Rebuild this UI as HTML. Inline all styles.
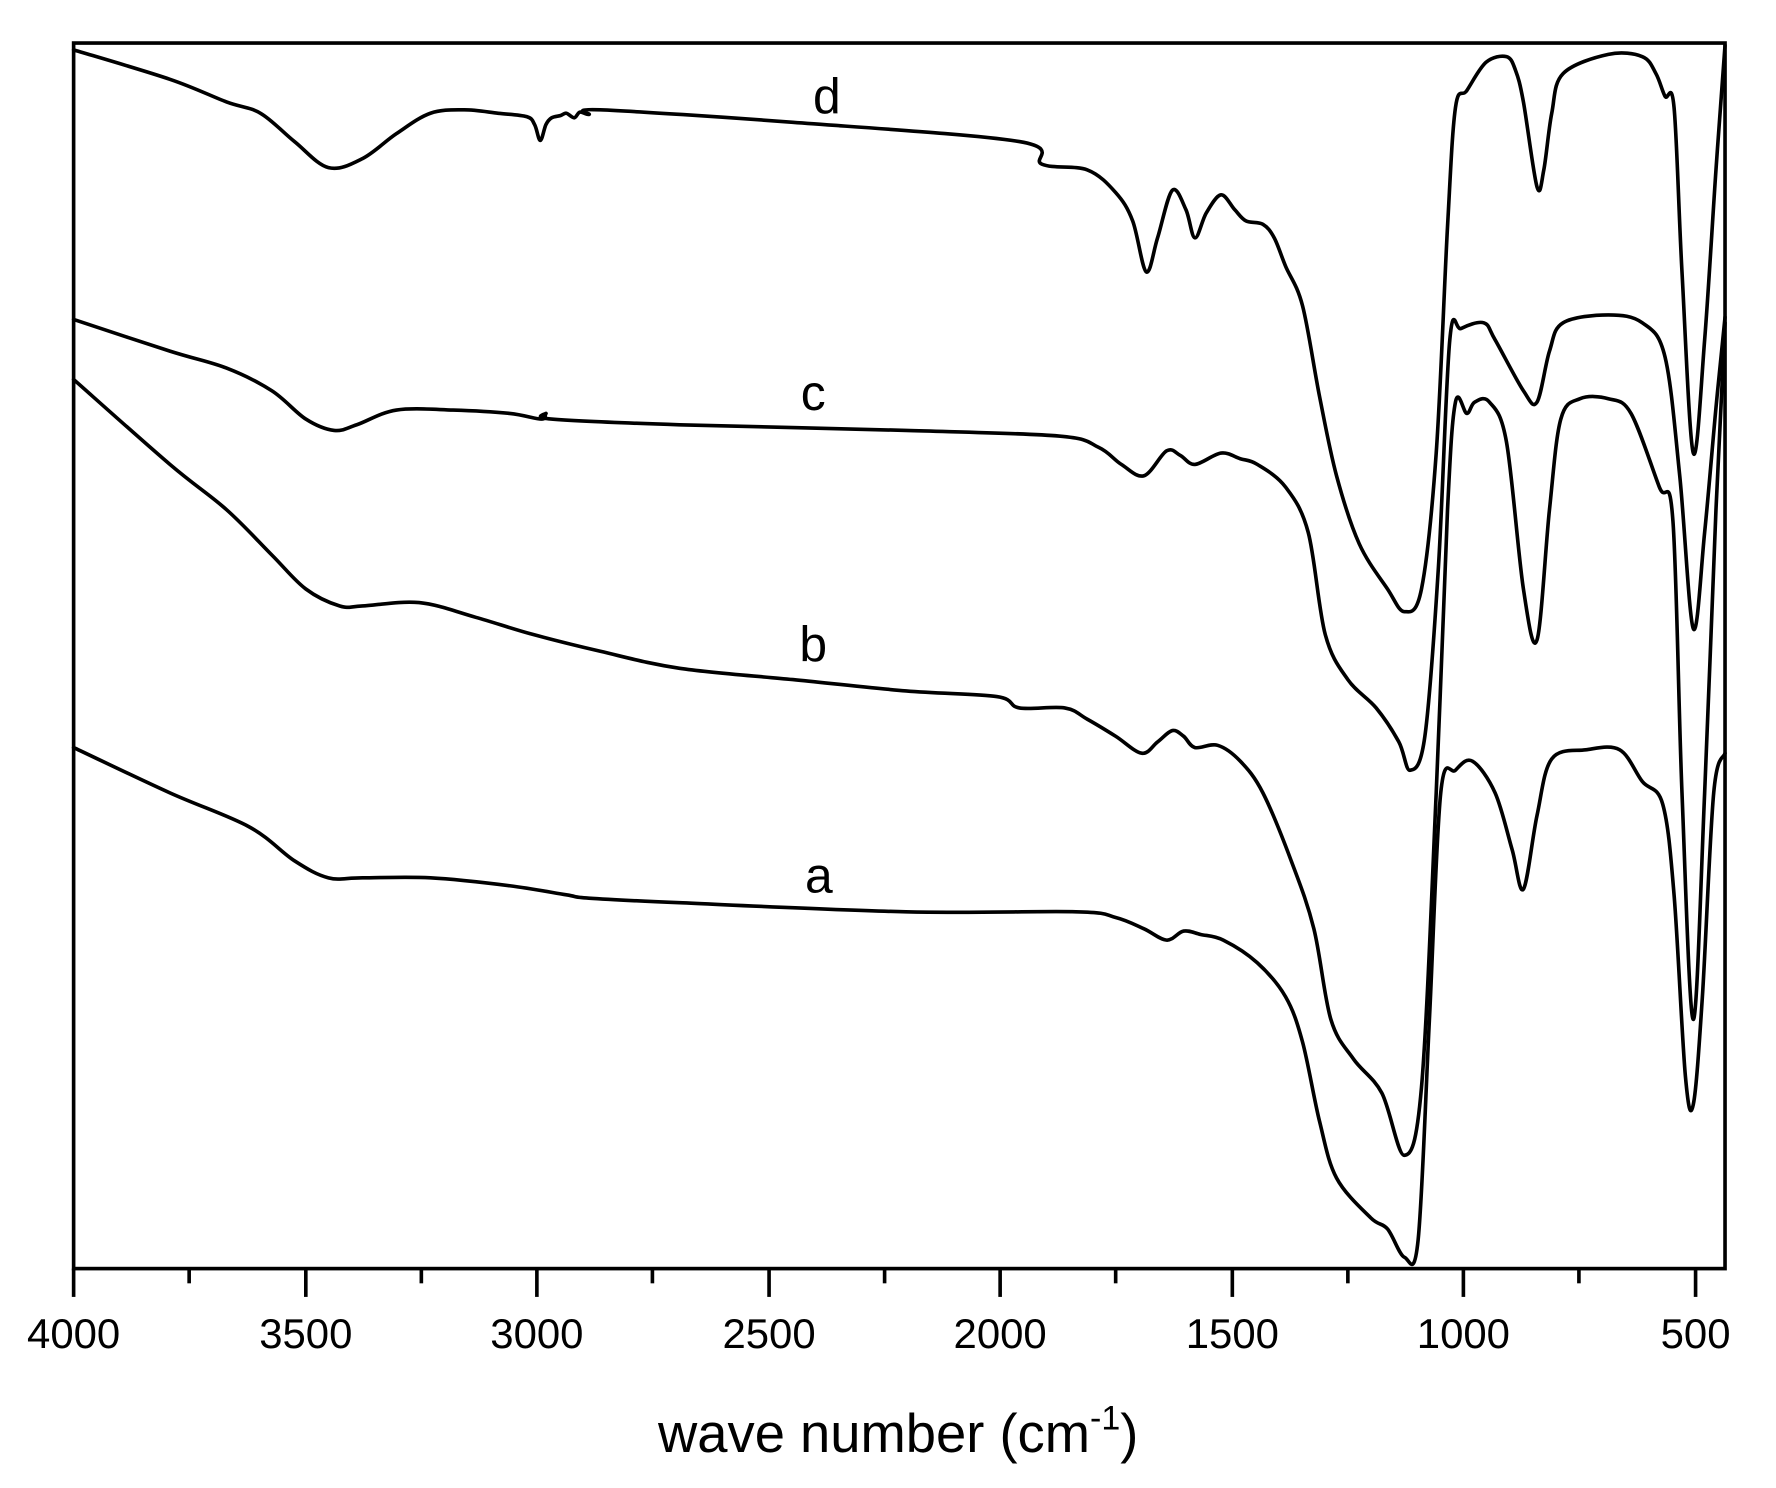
<!DOCTYPE html>
<html><head><meta charset="utf-8"><style>
html,body{margin:0;padding:0;background:#fff;}
svg{display:block;}
text{font-family:"Liberation Sans",Arial,sans-serif;fill:#000;}
</style></head><body>
<svg id="s" width="1776" height="1488" viewBox="0 0 1568 1313.7" preserveAspectRatio="none">
<rect x="0" y="0" width="1568" height="1314" fill="#fff"/>
<g id="curves" fill="none" stroke="#000" stroke-width="3.2" stroke-linejoin="round" stroke-linecap="round">
<polyline points="65,44 150,70 200,90 230,100 260,125 290,148 320,140 350,118 380,100 410,97 440,100 465,103 472,110 477,124 482,110 487,104 495,102 500,100 507,104 512,99 520,101 530,97 700,108 900,125 920,145 960,150 985,170 1000,195 1012,240 1022,210 1035,168 1047,185 1055,210 1065,188 1078,172 1090,185 1100,195 1115,198 1125,210 1135,235 1150,270 1165,350 1180,420 1200,480 1225,520 1240,540 1255,520 1268,400 1278,200 1285,95 1295,80 1312,55 1330,50 1338,62 1345,90 1357,165 1363,150 1370,100 1380,65 1420,48 1450,50 1462,65 1470,85 1478,95 1485,240 1495,400 1505,300 1515,150 1523,40"/>
<polyline points="65,282 150,310 200,325 240,345 270,370 295,380 315,375 350,362 400,362 450,365 478,370 482,365 487,370 600,375 800,380 935,385 970,395 990,410 1010,420 1030,398 1042,402 1055,410 1078,400 1095,405 1110,410 1135,430 1155,470 1170,560 1190,600 1215,625 1235,655 1245,680 1258,650 1270,500 1280,300 1290,290 1310,285 1320,300 1345,345 1357,355 1368,310 1380,285 1420,278 1450,285 1470,315 1483,420 1495,555 1505,470 1515,360 1523,280"/>
<polyline points="65,335 150,410 200,450 240,490 270,520 300,535 320,535 370,532 420,545 470,560 530,575 600,590 700,600 800,610 880,615 900,625 940,625 960,635 985,650 1008,665 1022,655 1035,645 1045,650 1055,660 1075,658 1095,672 1115,700 1140,760 1160,820 1175,900 1195,935 1220,965 1240,1020 1255,960 1268,700 1278,450 1285,355 1295,365 1302,355 1315,355 1330,390 1345,520 1357,565 1368,450 1378,370 1395,352 1420,352 1440,365 1465,430 1477,460 1485,700 1495,900 1505,700 1515,450 1523,285"/>
<polyline points="65,660 150,700 220,730 260,760 290,775 320,775 380,775 450,782 500,790 520,793 600,797 800,805 950,805 985,810 1010,820 1030,830 1045,822 1060,825 1080,830 1110,850 1135,880 1150,920 1165,990 1180,1040 1210,1075 1225,1085 1240,1110 1252,1095 1262,900 1272,700 1285,680 1300,672 1320,700 1335,750 1345,785 1357,720 1370,670 1400,662 1430,662 1450,690 1468,710 1478,790 1488,950 1495,975 1503,880 1513,700 1523,665"/>
</g>
<rect x="65" y="38" width="1458" height="1082" fill="none" stroke="#000" stroke-width="3.2"/>
<g stroke="#000" stroke-width="3.2">
<line x1="65" y1="1120" x2="65" y2="1145"/><line x1="167" y1="1120" x2="167" y2="1133"/>
<line x1="270" y1="1120" x2="270" y2="1145"/><line x1="372" y1="1120" x2="372" y2="1133"/>
<line x1="474" y1="1120" x2="474" y2="1145"/><line x1="576" y1="1120" x2="576" y2="1133"/>
<line x1="679" y1="1120" x2="679" y2="1145"/><line x1="781" y1="1120" x2="781" y2="1133"/>
<line x1="883" y1="1120" x2="883" y2="1145"/><line x1="985" y1="1120" x2="985" y2="1133"/>
<line x1="1088" y1="1120" x2="1088" y2="1145"/><line x1="1190" y1="1120" x2="1190" y2="1133"/>
<line x1="1292" y1="1120" x2="1292" y2="1145"/><line x1="1394" y1="1120" x2="1394" y2="1133"/>
<line x1="1497" y1="1120" x2="1497" y2="1145"/>
</g>
<g font-size="37" text-anchor="middle">
<text x="65" y="1190">4000</text><text x="270" y="1190">3500</text><text x="474" y="1190">3000</text>
<text x="679" y="1190">2500</text><text x="883" y="1190">2000</text><text x="1088" y="1190">1500</text>
<text x="1292" y="1190">1000</text><text x="1497" y="1190">500</text>
</g>
<text x="793" y="1282" font-size="48" text-anchor="middle">wave number (cm<tspan font-size="30" dy="-20">-1</tspan><tspan dy="20">)</tspan></text>
<g font-size="44" text-anchor="middle">
<text x="730" y="100">d</text><text x="718" y="362">c</text><text x="718" y="584">b</text><text x="723" y="788">a</text>
</g>
</svg>
<script>
document.querySelectorAll('#curves polyline').forEach(function(pl){
  var p=pl.getAttribute('points').trim().split(/\s+/).map(function(s){return s.split(',').map(Number);});
  var d='M'+p[0][0]+','+p[0][1];
  for(var i=0;i<p.length-1;i++){
    var p0=p[i-1]||p[i],p1=p[i],p2=p[i+1],p3=p[i+2]||p2,t=0.5/3;
    d+=' C'+(p1[0]+(p2[0]-p0[0])*t)+','+(p1[1]+(p2[1]-p0[1])*t)+' '+(p2[0]-(p3[0]-p1[0])*t)+','+(p2[1]-(p3[1]-p1[1])*t)+' '+p2[0]+','+p2[1];
  }
  var path=document.createElementNS('http://www.w3.org/2000/svg','path');
  path.setAttribute('d',d);pl.parentNode.replaceChild(path,pl);
});
</script>
</body></html>
